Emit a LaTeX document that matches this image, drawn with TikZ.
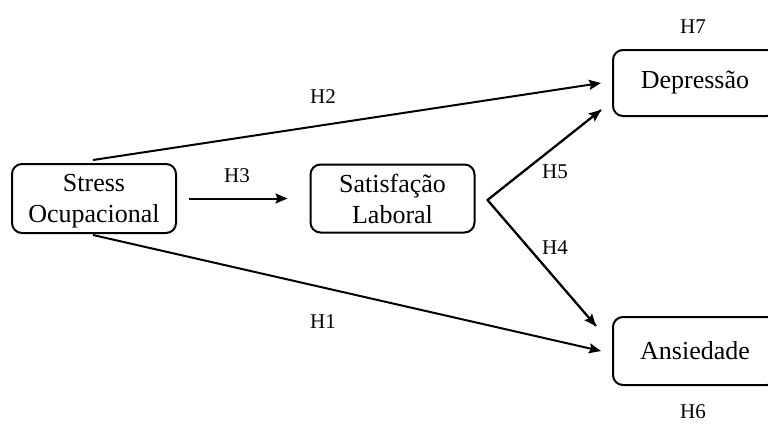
\documentclass[tikz,border=0pt]{standalone}
\usepackage{fontspec}
\setmainfont{Liberation Serif}
\usetikzlibrary{arrows.meta}
\begin{document}
\begin{tikzpicture}[x=1pt,y=-1pt,
  box/.style={draw, line width=2pt, rounded corners=10pt, minimum width=164pt,
    align=center, inner sep=0pt, font=\fontsize{26}{31}\selectfont},
  conn/.style={line width=2pt, -{Stealth[length=12pt,width=10pt,inset=2pt]}},
  lbl/.style={font=\fontsize{21}{25}\selectfont, inner sep=0pt}]
\clip (0,0) rectangle (768,423);
\fill[white] (0,0) rectangle (768,423);
\node[box, minimum height=69pt] (stress) at (94,198.5) {\raisebox{-2.5pt}[\height][\depth]{\begin{tabular}{@{}c@{}}Stress\\Ocupacional\end{tabular}}};
\node[box, minimum height=68pt] (sat) at (392.5,198.5) {Satisfação\\Laboral};
\node[box, minimum height=66pt] (dep) at (695,83) {Depressão};
\node[box, minimum height=68pt] (ans) at (695,351) {Ansiedade};
\coordinate (fork) at ([shift={(12,1.5)}]sat.east);
\draw[conn] ([xshift=12pt]stress.east) -- ([xshift=-22pt]sat.west);
\draw[conn] ([shift={(-1,-3)}]stress.north) -- ([xshift=-11pt]dep.west);
\draw[conn] ([shift={(-1,1)}]stress.south) -- ([xshift=-11pt]ans.west);
\draw[line width=2pt, line join=miter] ([shift={(-11,-7)}]dep.south west) -- (fork) -- ([shift={(-16,10)}]ans.north west);
\draw[conn] (fork) -- ([shift={(-11,-7)}]dep.south west);
\draw[conn] (fork) -- ([shift={(-16,10)}]ans.north west);
\node[lbl] (h3) at (237,176) {H3};
\node[lbl] (h2) at (323,97) {H2};
\node[lbl] (h1) at (323,322) {H1};
\node[lbl] (h5) at (555,172) {H5};
\node[lbl] (h4) at (555,248) {H4};
\node[lbl] (h7) at (693,27) {H7};
\node[lbl] (h6) at (693,412) {H6};
\end{tikzpicture}
\end{document}
